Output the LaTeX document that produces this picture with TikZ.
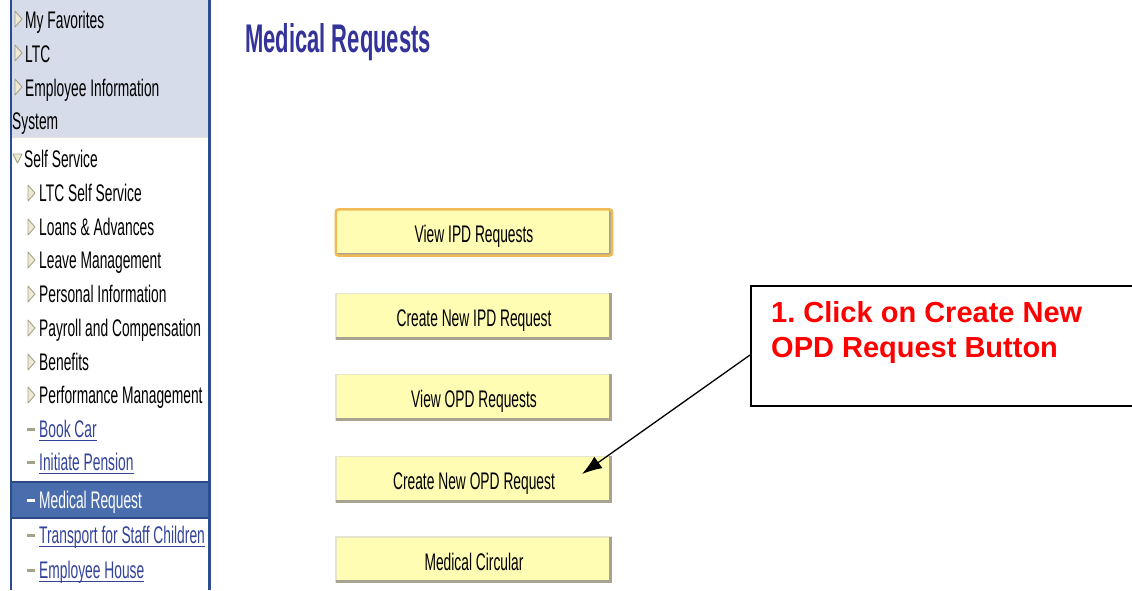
\documentclass[tikz,border=0pt]{standalone}
\usepackage{fontspec}
\newfontfamily\uifont[FakeStretch=0.575]{Liberation Sans}
\newfontfamily\titlefont[FakeStretch=0.55]{Liberation Sans}
\newfontfamily\calfont{Liberation Sans}
\usetikzlibrary{arrows.meta,calc}
\definecolor{paneltop}{HTML}{D6DCE9}
\definecolor{panelborder}{HTML}{2B4C8F}
\definecolor{bandfill}{HTML}{4A6DAD}
\definecolor{bandedge}{HTML}{2C4A88}
\definecolor{linkblue}{HTML}{33439A}
\definecolor{trifill}{HTML}{EDE9D5}
\definecolor{tridraw}{HTML}{A8A38A}
\definecolor{dashcol}{HTML}{A3A38A}
\definecolor{btnfill}{HTML}{FFFDB4}
\definecolor{btnshadow}{HTML}{A8A490}
\definecolor{btnlight}{HTML}{E6E4CC}
\definecolor{btnorange}{HTML}{F0BA55}
\definecolor{titleblue}{HTML}{333399}
\definecolor{calred}{HTML}{FF0000}
\begin{document}
\frenchspacing
\begin{tikzpicture}[x=1pt,y=-1pt,
  menutext/.style={anchor=base west,inner sep=0pt,font=\uifont\fontsize{24}{28}\selectfont,text=black},
  linktext/.style={menutext,text=linkblue},
  tri/.style={fill=trifill,draw=tridraw,line width=0.9pt,line join=round},
  linkdash/.style={line width=3pt,draw=dashcol},
  uline/.style={draw=linkblue,line width=1pt},
  btn/.style={rectangle,fill=btnfill,minimum width=276pt,minimum height=46pt,inner sep=0pt,
     text height=20pt,text depth=0pt,font=\uifont\fontsize{24}{28}\selectfont},
  btnshade/.style={draw=btnshadow,line width=3pt},
  btnhl/.style={draw=btnlight,line width=1.5pt},
  callout/.style={rectangle,draw=black,line width=2pt,minimum width=400pt,minimum height=120pt,inner sep=0pt},
  caltext/.style={anchor=base west,inner sep=0pt,font=\calfont\bfseries\fontsize{29}{35}\selectfont,text=calred},
  pointer/.style={draw=black,line width=1.3pt,-{Latex[length=20pt,width=14pt]}}
]
\useasboundingbox[fill=white] (0,0) rectangle (1132,590);

% ---- left navigation panel ----
\fill[paneltop] (11,0) rectangle (210,137);
\draw[draw=btnlight!70!paneltop,line width=1.5pt] (11,137.5) -- (210,137.5);
\fill[bandfill] (11,481) rectangle (210,518);
\draw[bandedge,line width=2pt] (11,481.5) -- (210,481.5) (11,517.5) -- (210,517.5);
\draw[panelborder,line width=2.5pt] (11,0) -- (11,590) (209.5,0) -- (209.5,590);

% top-level items with right triangles
\foreach \n/\x/\y/\t in {m1/25/28/My Favorites, m2/25/62/LTC, m3/25/96/Employee Information}{
  \node[menutext] (\n) at (\x,\y) {\t};
  \draw[tri] ([xshift=-10pt,yshift=1pt]\n.base west) -- ++(0,-16) -- ++(7,8) -- cycle;
}
\node[menutext] (m4) at (12,129) {System};

% Self Service with down triangle
\node[menutext] (m5) at (24,167) {Self Service};
\draw[tri] ([xshift=-11pt,yshift=13pt]m5.base west) -- ++(9,0) -- ++(-4.5,9) -- cycle;

% sub items
\foreach \n/\y/\t in {s1/201/LTC Self Service, s2/235/Loans \& Advances, s3/268/Leave Management,
   s4/302/Personal Information, s5/336/Payroll and Compensation, s6/370/Benefits,
   s7/403/Performance Management}{
  \node[menutext] (\n) at (39,\y) {\t};
  \draw[tri] ([xshift=-11pt,yshift=0pt]\n.base west) -- ++(0,-16) -- ++(7,8) -- cycle;
}

% links
\foreach \n/\y/\t in {l1/437/Book Car, l2/470/Initiate Pension, l4/543/Transport for Staff Children, l5/578/Employee House}{
  \node[linktext] (\n) at (39,\y) {\t};
  \draw[linkdash] ([xshift=-12pt,yshift=8pt]\n.base west) -- ++(8,0);
  \draw[uline] ([yshift=-3pt]\n.base west) -- ([yshift=-3pt]\n.base east);
}
\node[menutext,text=white] (l3) at (39,508) {Medical Request};
\draw[linkdash,draw=white] ([xshift=-12pt,yshift=8pt]l3.base west) -- ++(8,0);

% ---- title ----
\node[anchor=base west,inner sep=0pt,text=titleblue,font=\titlefont\bfseries\fontsize{40}{44}\selectfont] (title) at (245,52) {Medical Requests};

% ---- buttons ----
\node[btn] (b1) at (474,232.5) {View IPD Requests};
\node[btn] (b2) at (474,316.5) {Create New IPD Request};
\node[btn] (b3) at (474,397.5) {View OPD Requests};
\node[btn] (b4) at (474,479.5) {Create New OPD Request};
\node[btn] (b5) at (474,560) {Medical Circular};
\foreach \b in {b1,b2,b3,b4,b5}{
  \draw[btnhl] (\b.south west) -- (\b.north west) -- (\b.north east);
  \draw[btnshade] ([yshift=1.5pt]\b.south west) -- ([xshift=-1.5pt,yshift=1.5pt]\b.south east) -- ([xshift=-1.5pt]\b.north east);
}
\draw[btnorange,line width=2.5pt,rounded corners=3pt] (b1.south west) rectangle (b1.north east);

% ---- callout ----
\node[callout,anchor=north west] (cal) at (750,285) {};
\node[caltext] (c1) at (771,322) {1. Click on Create New};
\node[caltext] (c2) at (771,357) {OPD Request Button};
\coordinate (pstart) at (750,355);
\coordinate (ptip) at (582,474);
\draw[pointer] (pstart) -- (ptip);
\end{tikzpicture}
\end{document}
